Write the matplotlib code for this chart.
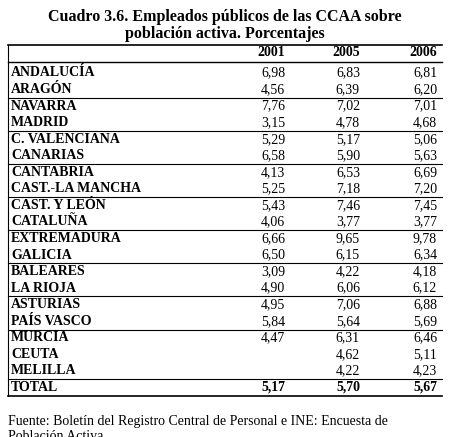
import matplotlib.pyplot as plt

regions = ["ANDALUCÍA", "ARAGÓN", "NAVARRA", "MADRID", "C. VALENCIANA", "CANARIAS",
           "CANTABRIA", "CAST.-LA MANCHA", "CAST. Y LEÓN", "CATALUÑA", "EXTREMADURA",
           "GALICIA", "BALEARES", "LA RIOJA", "ASTURIAS", "PAÍS VASCO", "MURCIA",
           "CEUTA", "MELILLA", "TOTAL"]
years = ["2001", "2005", "2006"]
v2001 = ["6,98", "4,56", "7,76", "3,15", "5,29", "6,58", "4,13", "5,25", "5,43", "4,06",
         "6,66", "6,50", "3,09", "4,90", "4,95", "5,84", "4,47", "", "", "5,17"]
v2005 = ["6,83", "6,39", "7,02", "4,78", "5,17", "5,90", "6,53", "7,18", "7,46", "3,77",
         "9,65", "6,15", "4,22", "6,06", "7,06", "5,64", "6,31", "4,62", "4,22", "5,70"]
v2006 = ["6,81", "6,20", "7,01", "4,68", "5,06", "5,63", "6,69", "7,20", "7,45", "3,77",
         "9,78", "6,34", "4,18", "6,12", "6,88", "5,69", "6,46", "5,11", "4,23", "5,67"]

plt.rcParams['font.family'] = ['Liberation Serif', 'DejaVu Serif']
fig = plt.figure(figsize=(4.5, 4.37), dpi=100)
ax = fig.add_axes([0, 0, 1, 1])
ax.set_xlim(0, 450)
ax.set_ylim(437, 0)
ax.axis('off')

ax.text(225, 17, "Cuadro 3.6. Empleados públicos de las CCAA sobre", ha='center', va='center',
        fontsize=11.5, weight='bold')
ax.text(225, 34, "población activa. Porcentajes", ha='center', va='center',
        fontsize=11.5, weight='bold')

col_x = [285, 360, 437]
for x, y in zip(col_x, years):
    ax.text(x, 53, y, ha='right', va='center', fontsize=10, weight='bold')
ax.plot([8, 442], [45, 45], color='black', lw=1.2)
ax.plot([8, 442], [62, 62], color='black', lw=1.0)

y0, dy = 73, 16.55
for i, name in enumerate(regions):
    y = y0 + i * dy
    bold = name == "TOTAL"
    ax.text(11, y, name, ha='left', va='center', fontsize=10, weight='bold')
    for x, vals in zip(col_x, [v2001, v2005, v2006]):
        ax.text(x, y, vals[i], ha='right', va='center', fontsize=10,
                weight='bold' if bold else 'normal')
    if i < 16 and i % 2 == 1:
        ax.plot([8, 442], [y + dy / 2] * 2, color='black', lw=0.8)
ax.plot([8, 442], [y0 + 18.5 * dy] * 2, color='black', lw=0.8)
ax.plot([8, 442], [y0 + 19.5 * dy] * 2, color='black', lw=1.2)
ax.plot([8, 8], [45, y0 + 19.5 * dy], color='black', lw=0.8)

ax.text(8, 422, "Fuente: Boletín del Registro Central de Personal e INE: Encuesta de",
        ha='left', va='center', fontsize=10)
ax.text(8, 437, "Población Activa", ha='left', va='center', fontsize=10)

fig.savefig("out.png", dpi=100)
